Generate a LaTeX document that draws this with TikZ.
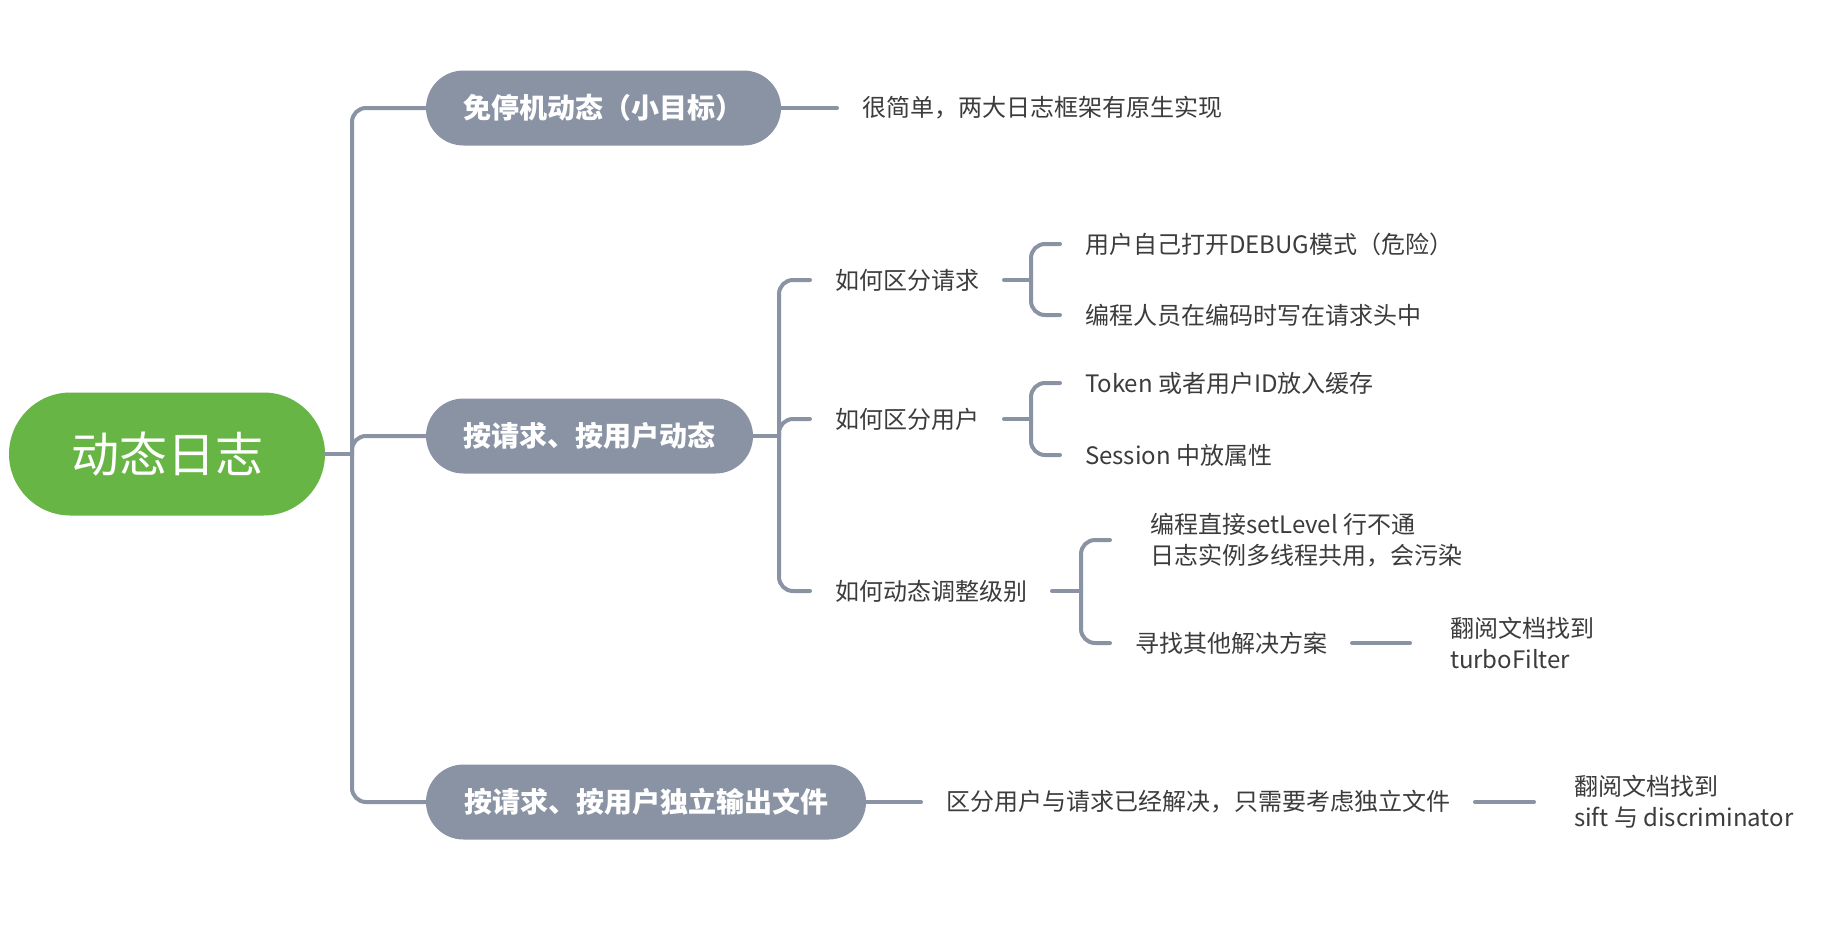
\documentclass[tikz,border=0pt]{standalone}
\usepackage{fontspec}
\setmainfont{Noto Sans CJK SC}
\definecolor{linec}{HTML}{8A93A4}
\definecolor{pillc}{HTML}{8A93A4}
\definecolor{rootc}{HTML}{67B545}
\definecolor{txt}{HTML}{3C3C3C}
\begin{document}
\begin{tikzpicture}[x=1pt,y=-1pt,
  conn/.style={draw=linec,line width=4pt,line cap=round},
  rc/.style={rounded corners=14pt},
  pill/.style={fill=pillc,text=white,font=\fontsize{28}{34}\selectfont\bfseries,minimum height=75pt,rounded corners=37.5pt,inner xsep=0pt,outer sep=0pt},
  lab/.style={text=txt,font=\fontsize{24}{31}\selectfont,inner xsep=25pt,inner ysep=0pt,outer sep=0pt,anchor=west},
  labtwo/.style={lab,inner xsep=40pt,align=left}]
\useasboundingbox[fill=white] (0,0) rectangle (1822,926);
\node[fill=rootc,text=white,font=\fontsize{48}{56}\selectfont,minimum width=316pt,minimum height=123pt,rounded corners=61.5pt,outer sep=0pt] (root) at (167,454) {动态日志};
\node[pill,minimum width=355pt] (p1) at (603.5,108) {免停机动态（小目标）};
\node[pill,minimum width=327pt] (p2) at (589.5,436) {按请求、按用户动态};
\node[pill,minimum width=440pt] (p3) at (646,802) {按请求、按用户独立输出文件};
\node[lab] (t1) at (837,108) {很简单，两大日志框架有原生实现};
\node[lab] (s1) at (810,280) {如何区分请求};
\node[lab] (s2) at (810,419) {如何区分用户};
\node[lab] (s3) at (810,591) {如何动态调整级别};
\node[lab] (l1) at (1060,244) {用户自己打开DEBUG模式（危险）};
\node[lab] (l2) at (1060,315) {编程人员在编码时写在请求头中};
\node[lab] (l3) at (1060,383) {Token 或者用户ID放入缓存};
\node[lab] (l4) at (1060,455) {Session 中放属性};
\node[labtwo] (l5) at (1110,540) {编程直接setLevel 行不通\\日志实例多线程共用，会污染};
\node[lab] (l6) at (1110,643) {寻找其他解决方案};
\node[labtwo] (l7) at (1410,643) {翻阅文档找到\\turboFilter};
\node[lab] (t3) at (921,802) {区分用户与请求已经解决，只需要考虑独立文件};
\node[labtwo] (t4) at (1534,802) {翻阅文档找到\\sift 与 discriminator};
\coordinate (j0) at (352,454);
\coordinate (j1) at (779,436);
\draw[conn] (root.east) -- (j0);
\draw[conn,rc] (j0) |- (p1.west);
\draw[conn,rc] (j0) |- (p2.west);
\draw[conn,rc] (j0) |- (p3.west);
\draw[conn] (p1.east) -- (t1.west);
\draw[conn] (p2.east) -- (j1);
\draw[conn,rc] (j1) |- (s1.west);
\draw[conn,rc] (j1) |- (s2.west);
\draw[conn,rc] (j1) |- (s3.west);
\draw[conn] (s1.east) -- ++(27,0) coordinate (b1);
\draw[conn,rc] (b1) |- (l1.west);
\draw[conn,rc] (b1) |- (l2.west);
\draw[conn] (s2.east) -- ++(27,0) coordinate (b2);
\draw[conn,rc] (b2) |- (l3.west);
\draw[conn,rc] (b2) |- (l4.west);
\draw[conn] (s3.east) -- ++(29,0) coordinate (b3);
\draw[conn,rc] (b3) |- (l5.west);
\draw[conn,rc] (b3) |- (l6.west);
\draw[conn] (l6.east) -- (l7.west);
\draw[conn] (p3.east) -- (t3.west);
\draw[conn] (t3.east) -- (t4.west);
\end{tikzpicture}
\end{document}
